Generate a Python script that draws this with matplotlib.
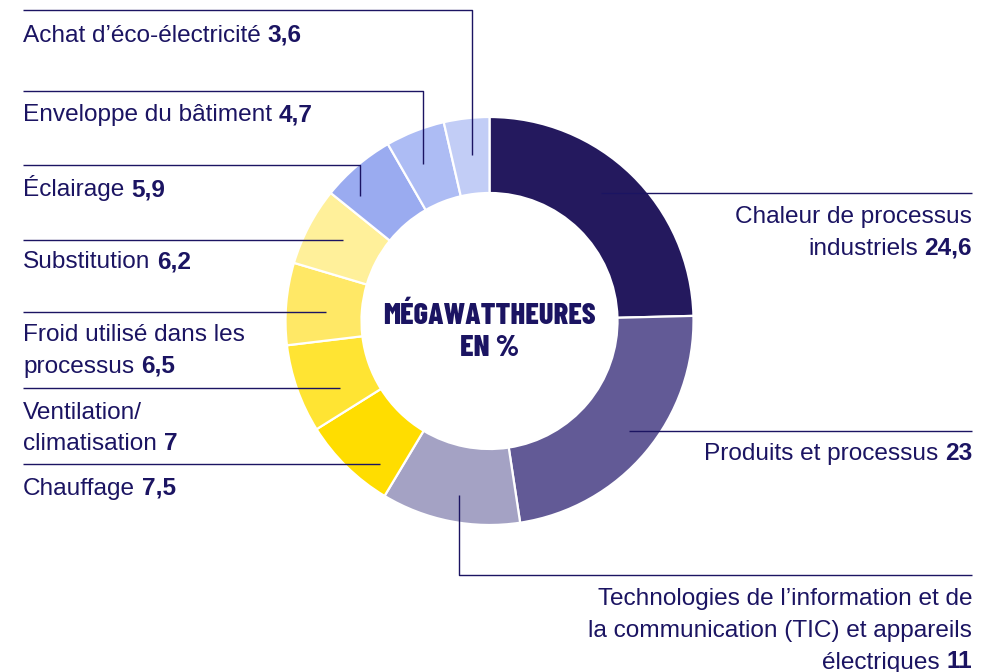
import matplotlib
matplotlib.use("Agg")
import matplotlib.pyplot as plt

# ---- data ----
categories = [
    "Chaleur de processus\nindustriels",
    "Produits et processus",
    "Technologies de l’information et de\nla communication (TIC) et appareils\nélectriques",
    "Chauffage",
    "Ventilation/\nclimatisation",
    "Froid utilisé dans les\nprocessus",
    "Substitution",
    "Éclairage",
    "Enveloppe du bâtiment",
    "Achat d’éco-électricité",
]
values = [24.6, 23, 11, 7.5, 7, 6.5, 6.2, 5.9, 4.7, 3.6]
value_labels = ["24,6", "23", "11", "7,5", "7", "6,5", "6,2", "5,9", "4,7", "3,6"]
colors = ["#24195e", "#625a96", "#a4a2c4", "#ffdd00", "#ffe433", "#ffe866",
          "#fff09a", "#9aabf0", "#adbcf4", "#c2cdf6"]
center_title = "MÉGAWATTHEURES\nEN %"

# ---- layout (pixel coordinates, y measured from top) ----
W, H = 996, 672
CX, CY, R_OUT, R_IN = 489.5, 321, 204, 128
NAVY = "#1b1462"
FS = 17.6
LEFT_X, RIGHT_X = 23, 972
LINE_GAP = 31.5

# per category: side, first baseline, leader polyline
layout = [
    ("right", 223.5, [(601, 193), (RIGHT_X, 193)]),
    ("right", 460, [(629, 431), (RIGHT_X, 431)]),
    ("right", 605.5, [(459, 495), (459, 575), (RIGHT_X, 575)]),
    ("left", 495, [(LEFT_X, 464), (380, 464)]),
    ("left", 419, [(LEFT_X, 388), (340, 388)]),
    ("left", 341, [(LEFT_X, 311.5), (326, 311.5)]),
    ("left", 268.5, [(LEFT_X, 240), (343, 240)]),
    ("left", 196, [(LEFT_X, 165), (360, 165), (360, 196)]),
    ("left", 121.5, [(LEFT_X, 91), (423, 91), (423, 164)]),
    ("left", 41.5, [(LEFT_X, 10), (472, 10), (472, 155)]),
]

def Y(py):
    return H - py

fig = plt.figure(figsize=(W / 100, H / 100), dpi=100)
ax = fig.add_axes([0, 0, 1, 1])

ax.pie(values, colors=colors, startangle=90, counterclock=False,
       radius=R_OUT, center=(CX, Y(CY)),
       wedgeprops=dict(width=R_OUT - R_IN, edgecolor="white", linewidth=1.6))
ax.set_xlim(0, W)
ax.set_ylim(0, H)
ax.set_aspect("equal")
ax.axis("off")

renderer = fig.canvas.get_renderer()
font = ["Liberation Sans", "DejaVu Sans"]

def width_px(t):
    return t.get_window_extent(renderer=renderer).width

space_px = FS * 100 / 72 * 0.278

for cat, val, (side, base, pts) in zip(categories, value_labels, layout):
    xs = [p[0] for p in pts]
    ys = [Y(p[1]) for p in pts]
    ax.plot(xs, ys, color=NAVY, lw=1.0, solid_capstyle="butt", zorder=5)
    lines = cat.split("\n")
    for i, ln in enumerate(lines):
        yb = Y(base + i * LINE_GAP)
        last = i == len(lines) - 1
        if side == "left":
            t = ax.text(LEFT_X, yb, ln, ha="left", va="baseline", fontsize=FS,
                        color=NAVY, family=font)
            if last:
                w = width_px(t)
                ax.text(LEFT_X + w + space_px, yb, val, ha="left", va="baseline",
                        fontsize=FS, color=NAVY, family=font, fontweight="bold")
        else:
            if last:
                tb = ax.text(RIGHT_X, yb, val, ha="right", va="baseline", fontsize=FS,
                             color=NAVY, family=font, fontweight="bold")
                w = width_px(tb)
                ax.text(RIGHT_X - w - space_px, yb, ln, ha="right", va="baseline",
                        fontsize=FS, color=NAVY, family=font)
            else:
                ax.text(RIGHT_X, yb, ln, ha="right", va="baseline", fontsize=FS,
                        color=NAVY, family=font)

# center title (condensed heavy), scaled so the first line is ~213 px wide
cfont = ["Barlow Condensed", "Roboto Condensed", "DejaVu Sans"]
title_lines = center_title.split("\n")
probe = ax.text(0, 0, title_lines[0], fontsize=20, family=cfont, fontweight=800)
cfs = 20 * 213 / width_px(probe)
probe.remove()
for i, ln in enumerate(title_lines):
    ax.text(CX, Y(324 + i * 32), ln, ha="center", va="baseline", fontsize=cfs,
            color=NAVY, family=cfont, fontweight=800)

fig.savefig("out.png", dpi=100)
